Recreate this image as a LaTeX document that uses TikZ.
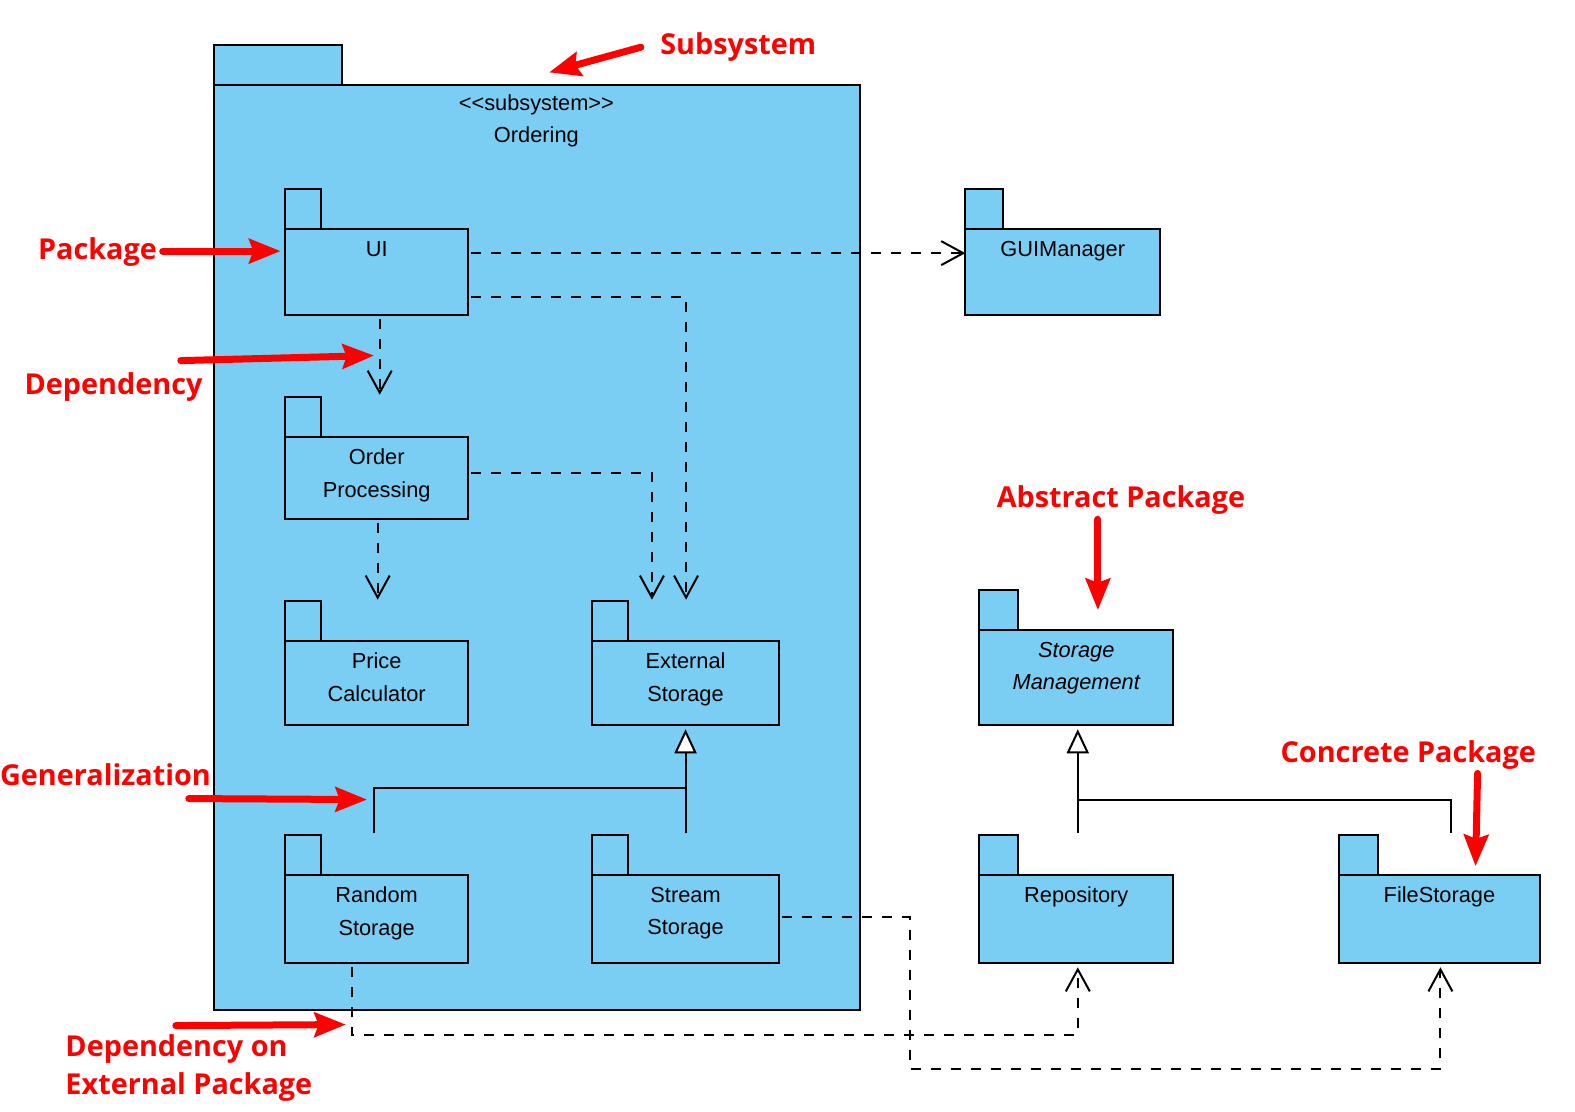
\documentclass[tikz,border=0pt]{standalone}
\usepackage{fontspec}
\setmainfont{Liberation Sans}
\newfontfamily\annfont{Open Sans}
\usetikzlibrary{arrows.meta,fit,calc}
\definecolor{pkgblue}{RGB}{122,205,243}
\definecolor{annred}{RGB}{255,0,0}
\tikzset{
  pkgbody/.style={draw=black, fill=pkgblue, line width=2pt, inner sep=0pt, outer sep=0pt},
  tabline/.style={draw=black, fill=pkgblue, line width=2pt},
  pkgtext/.style={inner sep=0pt, align=center, anchor=north, font=\fontsize{21.8}{32.5}\selectfont},
  dep/.style={draw=black, line width=2.1pt, dash pattern=on 10pt off 10pt,
    -{Straight Barb[length=22pt,width=24pt,line width=2pt]}},
  gline/.style={draw=black, line width=2pt},
  gen/.style={draw=black, line width=2pt, -{Triangle[length=24pt,width=22pt,fill=white]}},
  ann/.style={text=annred, inner sep=0pt, font=\annfont\bfseries\fontsize{28.8}{38}\selectfont},
  redarrow/.style={draw=annred, line width=7pt, line cap=round,
    -{Stealth[length=32pt,width=26pt,inset=5pt,line width=0pt]}}
}
\newcommand{\pkgbox}[5]{%
  \draw[tabline] (#2) rectangle ++(#4,-40);
  \node[pkgbody, fit={(#2) (#3)}] (#1) {};
  \node[pkgtext] (#1-label) at ($(#1.north)+(0,12)$) {#5};
}
\begin{document}
\begin{tikzpicture}[x=1.0045pt,y=-1.0045pt]
\useasboundingbox (0,0) rectangle (1568,1107);
% subsystem
\draw[tabline] (213,85) rectangle ++(127,-40);
\node[pkgbody, fit={(213,85) (856,1005)}] (sub) {};
\node[pkgtext] (sub-label) at (534,94) {<\kern0pt<subsystem>\kern0pt>\\Ordering};
% packages
\pkgbox{ui}{284,228}{466,314}{36}{UI}
\pkgbox{gui}{961,228}{1155,314}{38}{GUIManager}
\pkgbox{op}{284,435}{466,517}{36}{Order\\Processing}
\pkgbox{pc}{284,638}{466,722}{36}{Price\\Calculator}
\pkgbox{es}{589,638}{776,722}{36}{External\\Storage}
\pkgbox{rs}{284,871}{466,959}{36}{Random\\Storage}
\pkgbox{ss}{589,871}{776,959}{36}{Stream\\Storage}
\pkgbox{sm}{975,627}{1168,722}{38}{{\itshape Storage}\\{\itshape Management}}
\pkgbox{repo}{975,871}{1168,959}{38}{Repository}
\pkgbox{fs}{1333,871}{1533,959}{39}{FileStorage}
% dependencies
\draw[dep] ($(ui.north east)+(3,24)$) -- ($(gui.north west)+(0,24)$);
\draw[dep] ($(ui.north east)+(3,68)$) -| ($(es.north west)+(94,-41)$);
\draw[dep] ($(ui.south)+(3,4)$) -- ($(op.north west)+(94,-42)$);
\draw[dep] ($(op.north east)+(3,36)$) -| ($(es.north west)+(60,-41)$);
\draw[dep] ($(op.south)+(1,4)$) -- ($(pc.north west)+(92,-41)$);
\draw[dep] ($(rs.south)+(-25,4)$) |- ($(repo.south)+(1.5,71)$) -- ($(repo.south)+(1.5,4)$);
\draw[dep] ($(ss.east)+(3,-2)$) -- ++(127,0) |- ($(fs.south)+(1,105)$) -- ($(fs.south)+(1,4)$);
% generalizations
\draw[gline] ($(rs.north west)+(88,-42)$) |- ($(ss.north)+(0,-87)$);
\draw[gen] ($(ss.north)+(0,-42)$) -- ($(es.south)+(0,4)$);
\draw[gline] ($(fs.north)+(12,-42)$) |- ($(repo.north)+(1.5,-75)$);
\draw[gen] ($(repo.north)+(1.5,-42)$) -- ($(sm.south)+(1.5,4)$);
% annotations
\node[ann] (a-sub) at (735,47) {Subsystem};
\node[ann] (a-pkg) at (97,251) {Package};
\node[ann] (a-dep) at (113,385) {Dependency};
\node[ann] (a-abs) at (1116,498) {Abstract Package};
\node[ann] (a-con) at (1402,752) {Concrete Package};
\node[ann] (a-gen) at (105,771) {Generalization};
\node[ann, align=left, anchor=west] (a-ext) at (65,1063) {Dependency on\\External Package};
\coordinate (t-sub) at (638,47);  \coordinate (h-sub) at (547,72);
\coordinate (t-pkg) at (162,250); \coordinate (h-pkg) at (279,250);
\coordinate (t-dep) at (180,359); \coordinate (h-dep) at (372,354);
\coordinate (t-abs) at (1093,517); \coordinate (h-abs) at (1093,607);
\coordinate (t-con) at (1471,770); \coordinate (h-con) at (1469,862);
\coordinate (t-gen) at (188,795); \coordinate (h-gen) at (365,796);
\coordinate (t-ext) at (175,1021); \coordinate (h-ext) at (344,1020);
\foreach \n in {sub,pkg,dep,abs,con,gen,ext}{\draw[redarrow] (t-\n) -- (h-\n);}
\end{tikzpicture}
\end{document}
